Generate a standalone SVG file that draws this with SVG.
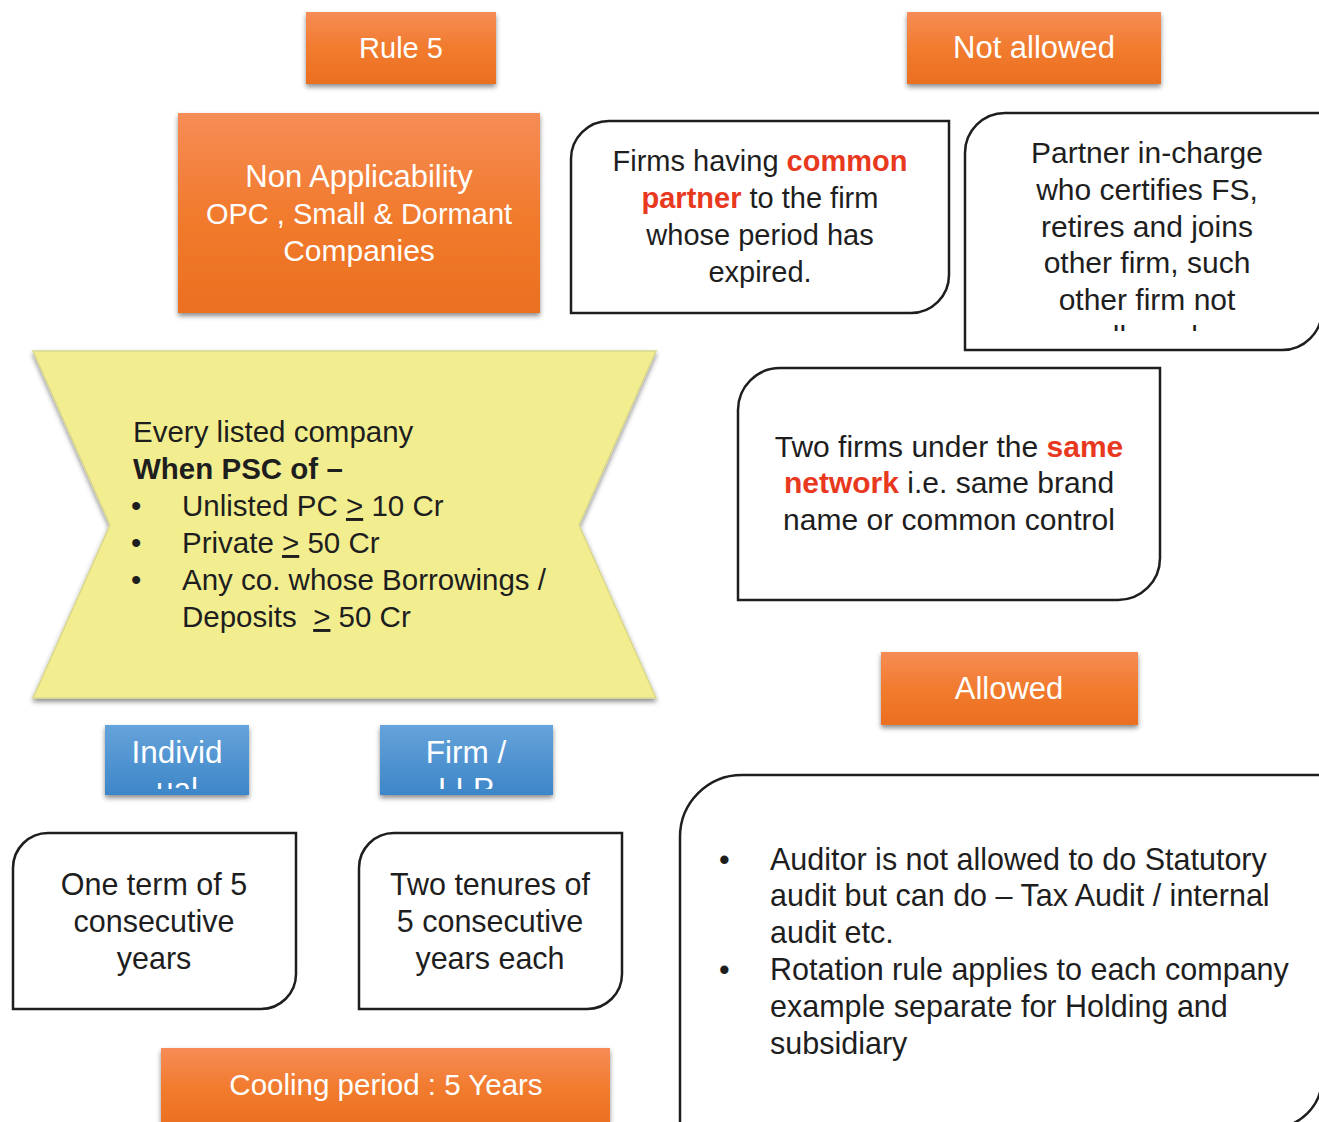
<svg xmlns="http://www.w3.org/2000/svg" width="1319" height="1122" viewBox="0 0 1319 1122">
<style>
text{font-family:"Liberation Sans",Arial,sans-serif;font-size:30px;}
.w{fill:#ffffff;text-anchor:middle;}
.d{fill:#1e1e1e;text-anchor:middle;}
.l{fill:#1e1e1e;}
.r{fill:#e8381e;font-weight:bold;}
.orange{fill:url(#og);filter:url(#sh);}
.blue{fill:url(#bg);filter:url(#sh);}
.box{fill:#ffffff;stroke:#1e1e1e;stroke-width:2.5;}
.u{text-decoration:underline;}
.s29{font-size:29px;}
.s295{font-size:29.5px;}
.s305{font-size:30.5px;}
.s31{font-size:31px;}
.s315{font-size:31.5px;}
</style>
<defs>
<linearGradient id="og" x1="0" y1="0" x2="0" y2="1"><stop offset="0" stop-color="#f68c56"/><stop offset="0.5" stop-color="#f17b2e"/><stop offset="1" stop-color="#eb6f20"/></linearGradient>
<linearGradient id="bg" x1="0" y1="0" x2="0" y2="1"><stop offset="0" stop-color="#65a3da"/><stop offset="1" stop-color="#3d86c8"/></linearGradient>
<filter id="sh" x="-10%" y="-10%" width="120%" height="130%"><feDropShadow dx="0" dy="3" stdDeviation="2.5" flood-color="#000" flood-opacity="0.45"/></filter>
<clipPath id="cpPartner"><rect x="965" y="113" width="360" height="218"/></clipPath>
<clipPath id="cpInd"><rect x="105" y="725" width="145" height="64"/></clipPath>
<clipPath id="cpFirm"><rect x="380" y="725" width="173" height="64"/></clipPath>
</defs>

<g id="rule5">
<rect class="orange" x="306" y="12" width="190" height="72"/>
<text class="w s29" x="401" y="58">Rule 5</text>
</g>

<g id="not-allowed">
<rect class="orange" x="907" y="12" width="254" height="72"/>
<text class="w s31" x="1034" y="58">Not allowed</text>
</g>

<g id="non-applicability">
<rect class="orange" x="178" y="113" width="362" height="200"/>
<text class="w s31" x="359" y="187">Non Applicability</text>
<text class="w s29" x="359" y="224">OPC , Small &amp; Dormant</text>
<text class="w" x="359" y="261">Companies</text>
</g>

<g id="common-partner">
<path class="box" d="M609,121 H949 V275 A38 38 0 0 1 911,313 H571 V159 A38 38 0 0 1 609,121 Z"/>
<text class="d s29" x="760" y="171">Firms having <tspan class="r">common</tspan></text>
<text class="d s29" x="760" y="208"><tspan class="r">partner</tspan> to the firm</text>
<text class="d s29" x="760" y="245">whose period has</text>
<text class="d s29" x="760" y="282">expired.</text>
</g>

<g id="partner-in-charge">
<path class="box" d="M1005,113 H1322 V310 A40 40 0 0 1 1282,350 H965 V153 A40 40 0 0 1 1005,113 Z"/>
<g clip-path="url(#cpPartner)">
<text class="d" x="1147" y="163">Partner in-charge</text>
<text class="d" x="1147" y="200">who certifies FS,</text>
<text class="d" x="1147" y="237">retires and joins</text>
<text class="d" x="1147" y="273">other firm, such</text>
<text class="d" x="1147" y="310">other firm not</text>
<text class="d" x="1147" y="347">allowed</text>
</g>
</g>

<g id="listed-company">
<polygon points="33,351 656,351 579,525 656,698 33,698 110,525" fill="#f2ee90" stroke="#d9d78e" stroke-width="1.5" filter="url(#sh)"/>
<text class="l s295" x="133" y="442">Every listed company</text>
<text class="l s295" x="133" y="479" font-weight="bold">When PSC of –</text>
<text class="l s295" x="131" y="516">•</text>
<text class="l s295" x="182" y="516">Unlisted PC <tspan class="u">&gt;</tspan> 10 Cr</text>
<text class="l s295" x="131" y="553">•</text>
<text class="l s295" x="182" y="553">Private <tspan class="u">&gt;</tspan> 50 Cr</text>
<text class="l s295" x="131" y="590">•</text>
<text class="l s295" x="182" y="590">Any co. whose Borrowings /</text>
<text class="l s295" x="182" y="627" xml:space="preserve">Deposits  <tspan class="u">&gt;</tspan> 50 Cr</text>
</g>

<g id="same-network">
<path class="box" d="M780,368 H1160 V558 A42 42 0 0 1 1118,600 H738 V410 A42 42 0 0 1 780,368 Z"/>
<text class="d" x="949" y="457">Two firms under the <tspan class="r">same</tspan></text>
<text class="d" x="949" y="493"><tspan class="r">network</tspan> i.e. same brand</text>
<text class="d" x="949" y="530">name or common control</text>
</g>

<g id="allowed">
<rect class="orange" x="881" y="652" width="257" height="73"/>
<text class="w s31" x="1009" y="699">Allowed</text>
</g>

<g id="individual">
<rect class="blue" x="105" y="725" width="144" height="70"/>
<g clip-path="url(#cpInd)">
<text class="w s315" x="177" y="763">Individ</text>
<text class="w s315" x="177" y="800">ual</text>
</g>
</g>

<g id="firm-llp">
<rect class="blue" x="380" y="725" width="173" height="70"/>
<g clip-path="url(#cpFirm)">
<text class="w s315" x="466" y="763">Firm /</text>
<text class="w s315" x="466" y="800">LLP</text>
</g>
</g>

<g id="one-term">
<path class="box" d="M48,833 H296 V974 A35 35 0 0 1 261,1009 H13 V868 A35 35 0 0 1 48,833 Z"/>
<text class="d s305" x="154" y="895">One term of 5</text>
<text class="d s305" x="154" y="932">consecutive</text>
<text class="d s305" x="154" y="969">years</text>
</g>

<g id="two-tenures">
<path class="box" d="M394,833 H622 V974 A35 35 0 0 1 587,1009 H359 V868 A35 35 0 0 1 394,833 Z"/>
<text class="d s305" x="490" y="895">Two tenures of</text>
<text class="d s305" x="490" y="932">5 consecutive</text>
<text class="d s305" x="490" y="969">years each</text>
</g>

<g id="cooling-period">
<rect class="orange" x="161" y="1048" width="449" height="80"/>
<text class="w s295" x="386" y="1095">Cooling period : 5 Years</text>
</g>

<g id="allowed-detail">
<path class="box" d="M742,775 H1322 V1078 A50 50 0 0 1 1272,1128 H680 V837 A62 62 0 0 1 742,775 Z"/>
<text class="l s305" x="719" y="870">•</text>
<text class="l s305" x="770" y="870">Auditor is not allowed to do Statutory</text>
<text class="l s305" x="770" y="906">audit but can do – Tax Audit / internal</text>
<text class="l s305" x="770" y="943">audit etc.</text>
<text class="l s305" x="719" y="980">•</text>
<text class="l s305" x="770" y="980">Rotation rule applies to each company</text>
<text class="l s305" x="770" y="1017">example separate for Holding and</text>
<text class="l s305" x="770" y="1054">subsidiary</text>
</g>

<g id="connectors"></g>
</svg>
